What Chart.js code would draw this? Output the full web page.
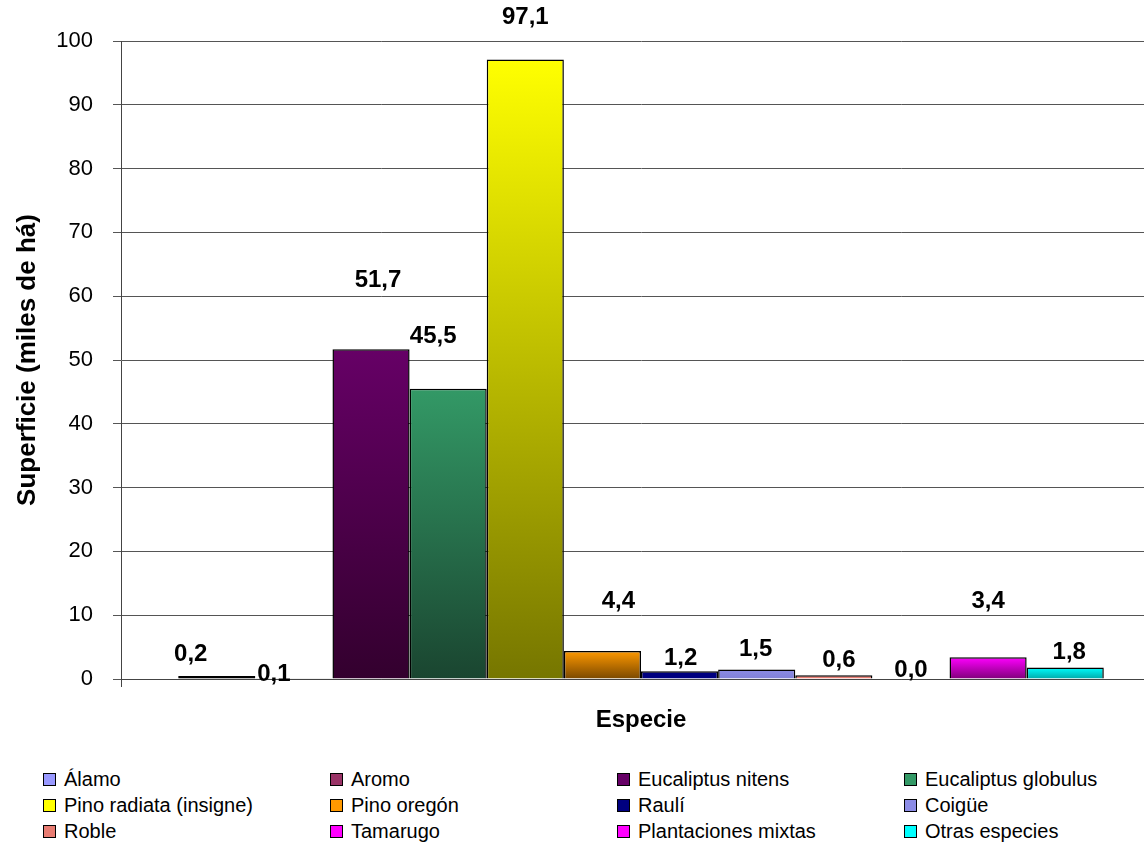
<!DOCTYPE html>
<html>
<head>
<meta charset="utf-8">
<script src="https://cdn.jsdelivr.net/npm/chart.js@4.4.1/dist/chart.umd.min.js"></script>
<style>
  body { margin: 0; overflow: hidden; background: #fff; font-family: "Liberation Sans", Arial, sans-serif; }
  #wrap { position: relative; width: 1144px; height: 846px; overflow: hidden; }
  #chart { position: absolute; left: 0; top: 0; }
  #legend { position: absolute; left: 43px; top: 766px; }
  .item { position: absolute; white-space: nowrap; font-size: 20px; line-height: 26px; color: #000; }
  .box { display: inline-block; width: 11px; height: 11px; border: 1px solid #000; margin-right: 8px; vertical-align: 0px; }
</style>
</head>
<body>
<div id="wrap">
  <canvas id="chart" width="1161" height="760"></canvas>
  <div id="legend"></div>
</div>
<script>
// Especies y superficie (miles de há)
const species = ['Álamo', 'Aromo', 'Eucaliptus nitens', 'Eucaliptus globulus', 'Pino radiata (insigne)', 'Pino oregón',
  'Raulí', 'Coigüe', 'Roble', 'Tamarugo', 'Plantaciones mixtas', 'Otras especies'];
const values = [0.2, 0.1, 51.7, 45.5, 97.1, 4.4, 1.2, 1.5, 0.6, 0.0, 3.4, 1.8];
const yTicks = [0, 10, 20, 30, 40, 50, 60, 70, 80, 90, 100];

// colores: arriba / abajo del degradado
const barColors = [
  ['#9999FF', '#9999FF'], ['#993366', '#993366'], ['#660066', '#33002E'], ['#339966', '#1A4530'],
  ['#FFFF00', '#767600'], ['#FF9900', '#7A4800'], ['#000080', '#000080'], ['#8C8CE6', '#8080D8'],
  ['#E87C72', '#E87C72'], ['#FF00FF', '#FF00FF'], ['#FF00FF', '#80007A'], ['#00FFFF', '#00A8A8']
];
// desplazamiento de cada etiqueta respecto al centro / borde superior de la barra
const labelOffsets = [[-26, -22], [-20, -4], [7, -69], [-15, -52], [0, -42], [16, -50],
  [1, -13], [-1, -20], [5, -15], [0, -9], [0, -56], [4, -15]];

function barFill(ctx) {
  const chart = ctx.chart;
  const c = barColors[ctx.datasetIndex];
  if (!chart.chartArea || !chart.scales.y) return c[0];
  const y = chart.scales.y;
  const top = y.getPixelForValue(values[ctx.datasetIndex]);
  const base = y.getPixelForValue(0);
  if (base - top < 2) return c[0];
  const g = chart.ctx.createLinearGradient(0, top, 0, base);
  g.addColorStop(0, c[0]);
  g.addColorStop(1, c[1]);
  return g;
}

const valueLabels = {
  id: 'valueLabels',
  afterDatasetsDraw(chart) {
    const ctx = chart.ctx;
    ctx.save();
    ctx.font = 'bold 24px "Liberation Sans", Arial, sans-serif';
    ctx.fillStyle = '#000';
    ctx.textAlign = 'center';
    ctx.textBaseline = 'middle';
    chart.data.datasets.forEach((ds, i) => {
      const bar = chart.getDatasetMeta(i).data[0];
      const off = labelOffsets[i];
      ctx.fillText(ds.data[0].toFixed(1).replace('.', ','), bar.x + off[0], bar.y + off[1]);
    });
    ctx.restore();
  }
};

const chart = new Chart(document.getElementById('chart'), {
  type: 'bar',
  data: {
    labels: [''],
    datasets: species.map((name, i) => ({
      label: name,
      data: [values[i]],
      backgroundColor: barFill,
      borderColor: '#000',
      borderWidth: 1.5,
      borderSkipped: i === 0 ? false : 'start',
      minBarLength: i === 0 ? 3 : 0,
      barPercentage: 1,
      categoryPercentage: 0.89
    }))
  },
  options: {
    responsive: false,
    animation: false,
    layout: { padding: { top: 41, right: 0, bottom: 0, left: 0 } },
    plugins: { legend: { display: false }, tooltip: { enabled: false } },
    scales: {
      x: {
        ticks: { display: false },
        grid: { drawOnChartArea: false, drawTicks: true, tickLength: 8, color: '#444', offset: true },
        border: { color: '#444' },
        title: {
          display: true, text: 'Especie', color: '#000',
          font: { family: '"Liberation Sans", Arial, sans-serif', size: 24, weight: 'bold' },
          padding: { top: 0, bottom: 25 }
        },
        afterFit(scale) { scale.height = 81; }
      },
      y: {
        min: 0,
        max: 100,
        afterBuildTicks(scale) { scale.ticks = yTicks.map(v => ({ value: v })); },
        ticks: {
          color: '#000', padding: 20,
          font: { family: '"Liberation Sans", Arial, sans-serif', size: 22 }
        },
        grid: { color: '#555', tickLength: 8 },
        border: { color: '#444' },
        title: {
          display: true, text: 'Superficie (miles de há)', color: '#000',
          font: { family: '"Liberation Sans", Arial, sans-serif', size: 26, weight: 'bold' },
          padding: { top: 12, bottom: 0 }
        },
        afterFit(scale) { scale.width = 121; }
      }
    }
  },
  plugins: [valueLabels]
});

// leyenda en 4 columnas
const legend = document.getElementById('legend');
species.forEach((name, i) => {
  const item = document.createElement('div');
  item.className = 'item';
  item.style.left = (i % 4) * 287 + 'px';
  item.style.top = Math.floor(i / 4) * 26 + 'px';
  const box = document.createElement('span');
  box.className = 'box';
  box.style.background = barColors[i][0];
  item.appendChild(box);
  item.appendChild(document.createTextNode(name));
  legend.appendChild(item);
});
</script>
</body>
</html>
